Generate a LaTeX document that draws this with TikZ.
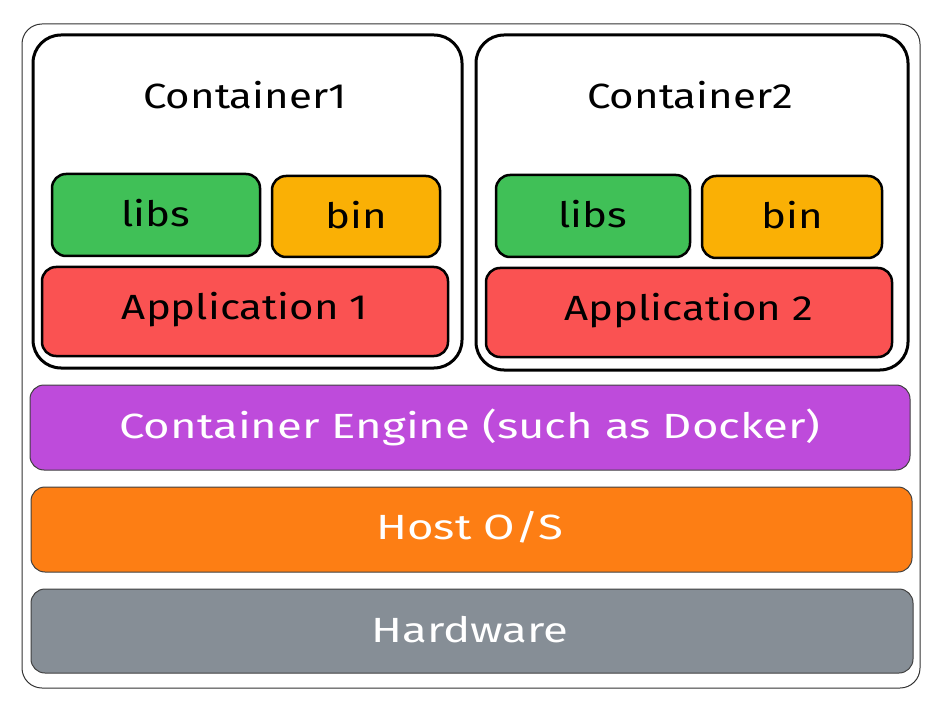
\documentclass[tikz,border=0pt]{standalone}
\usepackage{fontspec}
\setmainfont{Fira Sans}
\newfontfamily\widedark[FakeStretch=1.2]{Fira Sans}
\newfontfamily\widelight[FakeStretch=1.3]{Fira Sans}
\definecolor{cgreen}{HTML}{40C057}
\definecolor{cyellow}{HTML}{FAB005}
\definecolor{cred}{HTML}{FA5252}
\definecolor{cpurple}{HTML}{BE4BDB}
\definecolor{corange}{HTML}{FD7E14}
\definecolor{cgray}{HTML}{868E96}
\begin{document}
\begin{tikzpicture}[x=1pt,y=-1pt,
  outerbox/.style={draw=black!80,line width=1pt,rounded corners=20pt},
  contbox/.style={draw=black,line width=3pt,rounded corners=28pt},
  partbox/.style={draw=black,line width=2.5pt,rounded corners=14pt},
  layerbox/.style={draw=black!75,line width=1pt,rounded corners=14pt},
  darktext/.style={font=\widedark\fontsize{35}{40}\selectfont,text=black},
  lighttext/.style={font=\widelight\fontsize{35}{40}\selectfont,text=white}]
\useasboundingbox (0,0) rectangle (942,711);
\draw[outerbox] (22,24) rectangle (920,688);
\draw[contbox] (33,35) rectangle (462,368);
\draw[contbox] (476,35) rectangle (908,370);
\node[darktext] (c1) at (245,95) {Container1};
\node[darktext] (c2) at (690,95) {Container2};
\draw[partbox,fill=cgreen] (52,174) rectangle (260,256);
\node[darktext] (libs1) at (156,213) {libs};
\draw[partbox,fill=cyellow] (272,176) rectangle (440,257);
\node[darktext] (bin1) at (356,215) {bin};
\draw[partbox,fill=cred] (42,267) rectangle (448,356);
\node[darktext] (app1) at (245,310) {Application 1};
\draw[partbox,fill=cgreen] (496,175) rectangle (690,257);
\node[darktext] (libs2) at (593,214) {libs};
\draw[partbox,fill=cyellow] (702,176) rectangle (882,258);
\node[darktext] (bin2) at (792,215) {bin};
\draw[partbox,fill=cred] (486,268) rectangle (892,357);
\node[darktext] (app2) at (689,311) {Application 2};
\draw[layerbox,fill=cpurple] (30,385) rectangle (910,470);
\node[lighttext] (eng) at (470,427) {Container Engine (such as Docker)};
\draw[layerbox,fill=corange] (31,487) rectangle (912,572);
\node[lighttext] (host) at (470,527) {Host O/S};
\draw[layerbox,fill=cgray] (31,589) rectangle (913,673);
\node[lighttext] (hw) at (470,630) {Hardware};
\end{tikzpicture}
\end{document}
